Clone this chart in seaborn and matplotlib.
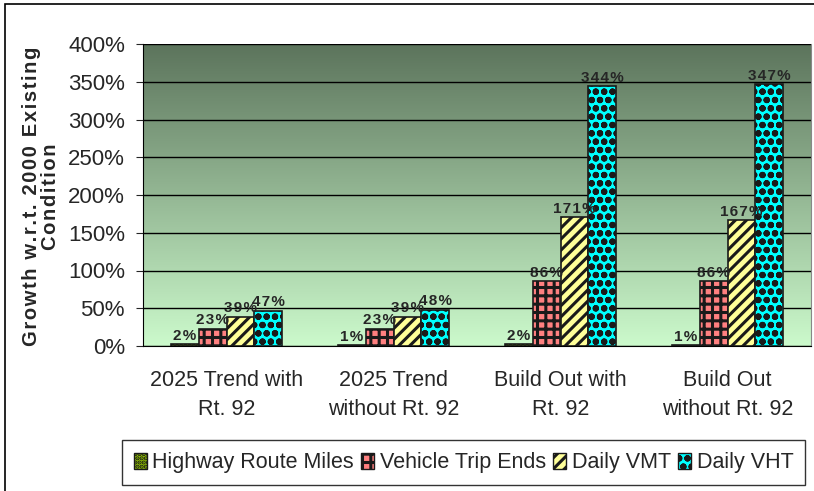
import numpy as np
import pandas as pd
import matplotlib
matplotlib.use('Agg')
import matplotlib.pyplot as plt
import seaborn as sns
from matplotlib.patches import Rectangle, Patch

# Datos
escenarios = ['2025 Trend with\nRt. 92', '2025 Trend\nwithout Rt. 92',
              'Build Out with\nRt. 92', 'Build Out\nwithout Rt. 92']
series = ['Highway Route Miles', 'Vehicle Trip Ends', 'Daily VMT', 'Daily VHT']
highway_miles = [2, 1, 2, 1]
trip_ends = [23, 23, 86, 86]
daily_vmt = [39, 39, 171, 167]
daily_vht = [47, 48, 344, 347]
y_ticks = [0, 50, 100, 150, 200, 250, 300, 350, 400]

colores = ['#99cc00', '#ff8080', '#ffff99', '#00ffff']
tramas = ['....', '++', '///', 'oo']

df = pd.DataFrame({
    'escenario': np.repeat(escenarios, 4),
    'serie': series * 4,
    'valor': np.array([highway_miles, trip_ends, daily_vmt, daily_vht]).T.ravel(),
})

sns.set_style('white')
plt.rcParams['font.family'] = ['Liberation Sans', 'DejaVu Sans']
plt.rcParams['hatch.linewidth'] = 2.2
plt.rcParams['hatch.color'] = '#2a2a2a'

fig = plt.figure(figsize=(8.14, 4.91), dpi=100)
ax = fig.add_axes([143 / 814, 145 / 491, 668 / 814, 302 / 491])

# Fondo degradado verde
grad = np.linspace(0, 1, 256).reshape(-1, 1)
cmap = matplotlib.colors.LinearSegmentedColormap.from_list('fondo', ['#ccfacc', '#5c745c'])
ax.imshow(grad, extent=[0, 1, 0, 1], transform=ax.transAxes, origin='lower',
          aspect='auto', cmap=cmap, zorder=0)

sns.barplot(data=df, x='escenario', y='valor', hue='serie', order=escenarios,
            hue_order=series, palette=colores, width=0.67, edgecolor='#1a1a1a',
            linewidth=1.2, legend=False, ax=ax, zorder=3)

for cont, trama, col in zip(ax.containers, tramas, colores):
    for barra in cont:
        barra.set_hatch(trama)
        barra.set_facecolor(col)
        barra.set_edgecolor('#1a1a1a')
    etiquetas = ['\u200a'.join(f'{int(v)}%') for v in cont.datavalues]
    ax.bar_label(cont, labels=etiquetas, padding=1, fontsize=11,
                 fontweight='bold', zorder=5)

ax.set_xlim(-0.5, 3.5)
ax.set_ylim(0, 400)
ax.set_yticks(y_ticks)
ax.set_yticklabels([f'{t}%' for t in y_ticks], fontsize=16)
ax.yaxis.grid(True, color='black', linewidth=1, zorder=1)
ax.set_axisbelow(True)

ax.set_xticks([-0.5, 0.5, 1.5, 2.5, 3.5])
ax.set_xticklabels([])
ax.set_xticks(range(4), minor=True)
ax.set_xticklabels(escenarios, minor=True, fontsize=15.5, linespacing=1.55)
ax.tick_params(axis='x', which='major', direction='out', length=6, color='#444444')
ax.tick_params(axis='x', which='minor', length=0, pad=17)
ax.tick_params(axis='y', direction='out', length=5, left=True, pad=8)
ax.set_xlabel('')
ax.set_ylabel('')

for lado in ['top', 'right']:
    ax.spines[lado].set_visible(False)
ax.spines['left'].set_color('black')
ax.spines['bottom'].set_color('black')
ax.spines['right'].set_visible(True)
ax.spines['right'].set_color('#888888')

titulo_y = '\u200a'.join('Growth w.r.t. 2000 Existing') + '\n' + '\u200a'.join('Condition')
fig.text(41 / 814, 0.600, titulo_y, rotation=90, ha='center', va='center',
         multialignment='center', fontsize=14.5, fontweight='bold', linespacing=0.95)

# Leyenda
manijas = [Patch(facecolor=c, edgecolor='#1a1a1a', hatch=h, linewidth=1)
           for c, h in zip(colores, tramas)]
ley = fig.legend(manijas, series, loc='lower left', ncol=4,
                 bbox_to_anchor=(122 / 814, 6 / 491), borderaxespad=0, fontsize=15.5,
                 frameon=True, fancybox=False, edgecolor='black', handlelength=0.6,
                 handleheight=0.75, handletextpad=0.25, columnspacing=0.35,
                 borderpad=0.55)
ley.get_frame().set_linewidth(1)

# Marco exterior
fig.patches.append(Rectangle((5 / 814, -0.01), 1.2, 0.9995 - 4 / 491 + 0.01,
                             transform=fig.transFigure, fill=False,
                             edgecolor='black', linewidth=1.2))

plt.savefig('out.png', dpi=100)
